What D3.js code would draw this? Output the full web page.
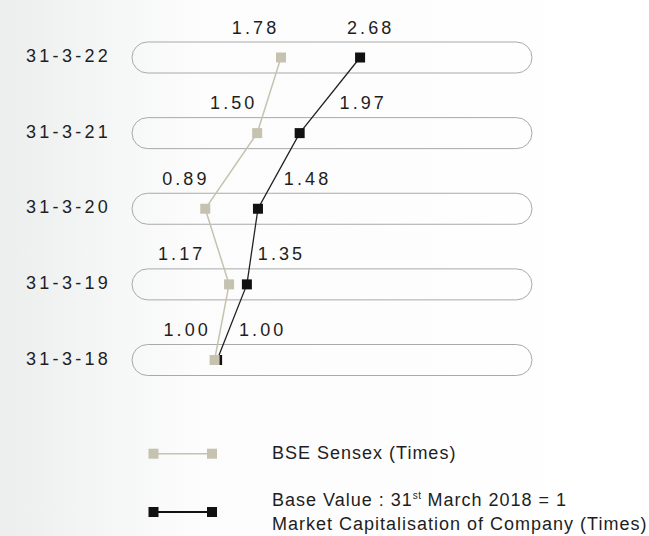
<!DOCTYPE html>
<html>
<head>
<meta charset="utf-8">
<script src="https://cdn.jsdelivr.net/npm/d3@7/dist/d3.min.js"></script>
<style>
  html, body { margin: 0; padding: 0; background: #fff; }
  svg { display: block; }
  text { font-family: "Liberation Sans", Arial, Helvetica, sans-serif; fill: #1e1e1e; }
</style>
</head>
<body>
<div id="chart"></div>
<script>
// ---- data ----
const dates = ["31-3-18", "31-3-19", "31-3-20", "31-3-21", "31-3-22"];
const sensex = [1.00, 1.17, 0.89, 1.50, 1.78];
const mcap = [1.00, 1.35, 1.48, 1.97, 2.68];
const seriesNames = ["BSE Sensex (Times)", "Market Capitalisation of Company (Times)"];
const baseNote = ["Base Value : 31", "st", " March 2018 = 1"];

// label nudges (relative to each point)
const sensexLabelDx = [-29, -49, -21, -25, -27];
const mcapLabelDx = [44, 33, 48, 62, 9];

const W = 649, H = 536;
const svg = d3.select("#chart").append("svg").attr("width", W).attr("height", H);

// background gradient
const defs = svg.append("defs");
const grad = defs.append("linearGradient").attr("id", "bg").attr("x1", "0").attr("x2", "1").attr("y1", "0").attr("y2", "0");
grad.append("stop").attr("offset", "0").attr("stop-color", "#eceeee");
grad.append("stop").attr("offset", "0.3").attr("stop-color", "#fcfcfc");
grad.append("stop").attr("offset", "1").attr("stop-color", "#ffffff");
svg.append("rect").attr("width", W).attr("height", H).attr("fill", "url(#bg)");

const x = d3.scaleLinear().domain([0, 4.7]).range([132, 532]);
const y = d3.scalePoint().domain(dates).range([360, 57.5]);

const pillH = 31;
const gray = "#c5c2b0";
const dark = "#111";

// pills
svg.append("g").selectAll("rect").data(dates).join("rect")
  .attr("x", x(0)).attr("width", x(4.7) - x(0))
  .attr("y", d => y(d) - pillH / 2).attr("height", pillH)
  .attr("rx", pillH / 2).attr("ry", pillH / 2)
  .attr("fill", "none").attr("stroke", "#a9a9a9").attr("stroke-width", 1);

// row labels
svg.append("g").selectAll("text").data(dates).join("text")
  .attr("x", 26).attr("y", d => y(d) + 4.5)
  .attr("font-size", 18).attr("letter-spacing", 3.3)
  .text(d => d);

const sOff = -2.5;
const sData = dates.map((d, i) => ({ d, v: sensex[i], dx: sensexLabelDx[i] }));
const mData = dates.map((d, i) => ({ d, v: mcap[i], dx: mcapLabelDx[i] }));

const lineS = d3.line().x(p => x(p.v) + sOff).y(p => y(p.d));
const lineM = d3.line().x(p => x(p.v)).y(p => y(p.d));

const sq = 10;

// market cap series (drawn first)
svg.append("path").datum(mData).attr("d", lineM)
  .attr("fill", "none").attr("stroke", "#222").attr("stroke-width", 1.3);
svg.append("g").selectAll("rect").data(mData).join("rect")
  .attr("x", p => x(p.v) - sq / 2).attr("y", p => y(p.d) - sq / 2)
  .attr("width", sq).attr("height", sq).attr("fill", dark);

// sensex series
svg.append("path").datum(sData).attr("d", lineS)
  .attr("fill", "none").attr("stroke", gray).attr("stroke-width", 1.5);
svg.append("g").selectAll("rect").data(sData).join("rect")
  .attr("x", p => x(p.v) + sOff - sq / 2).attr("y", p => y(p.d) - sq / 2)
  .attr("width", sq).attr("height", sq).attr("fill", gray);

// value labels
const fmt = d3.format(".2f");
function labels(data, off) {
  svg.append("g").selectAll("text").data(data).join("text")
    .attr("x", p => x(p.v) + off + p.dx + 1.6)
    .attr("y", p => y(p.d) - 24)
    .attr("text-anchor", "middle")
    .attr("font-size", 18).attr("letter-spacing", 3.1)
    .text(p => fmt(p.v));
}
labels(sData, sOff);
labels(mData, 0);

// legend
const legY = [453.7, 512];
const legColors = [gray, dark];
const legWidths = [1.5, 2];
const lg = svg.append("g");
legY.forEach((ly, i) => {
  lg.append("line").attr("x1", 153.5).attr("x2", 212).attr("y1", ly).attr("y2", ly)
    .attr("stroke", i === 0 ? gray : "#111").attr("stroke-width", legWidths[i]);
  [153.5, 212].forEach(cx => {
    lg.append("rect").attr("x", cx - 5).attr("y", ly - 5).attr("width", 10).attr("height", 10)
      .attr("fill", legColors[i]);
  });
});
lg.append("text").attr("x", 272).attr("y", 458.5)
  .attr("font-size", 18).attr("letter-spacing", 1).text(seriesNames[0]);
const bt = lg.append("text").attr("x", 272).attr("y", 506.3)
  .attr("font-size", 18).attr("letter-spacing", 1);
bt.append("tspan").text(baseNote[0]);
bt.append("tspan").attr("font-size", 10).attr("dy", -7).attr("letter-spacing", 0.5).text(baseNote[1]);
bt.append("tspan").attr("dy", 7).text(baseNote[2]);
lg.append("text").attr("x", 272).attr("y", 529.7)
  .attr("font-size", 18).attr("letter-spacing", 1).text(seriesNames[1]);
</script>
</body>
</html>
